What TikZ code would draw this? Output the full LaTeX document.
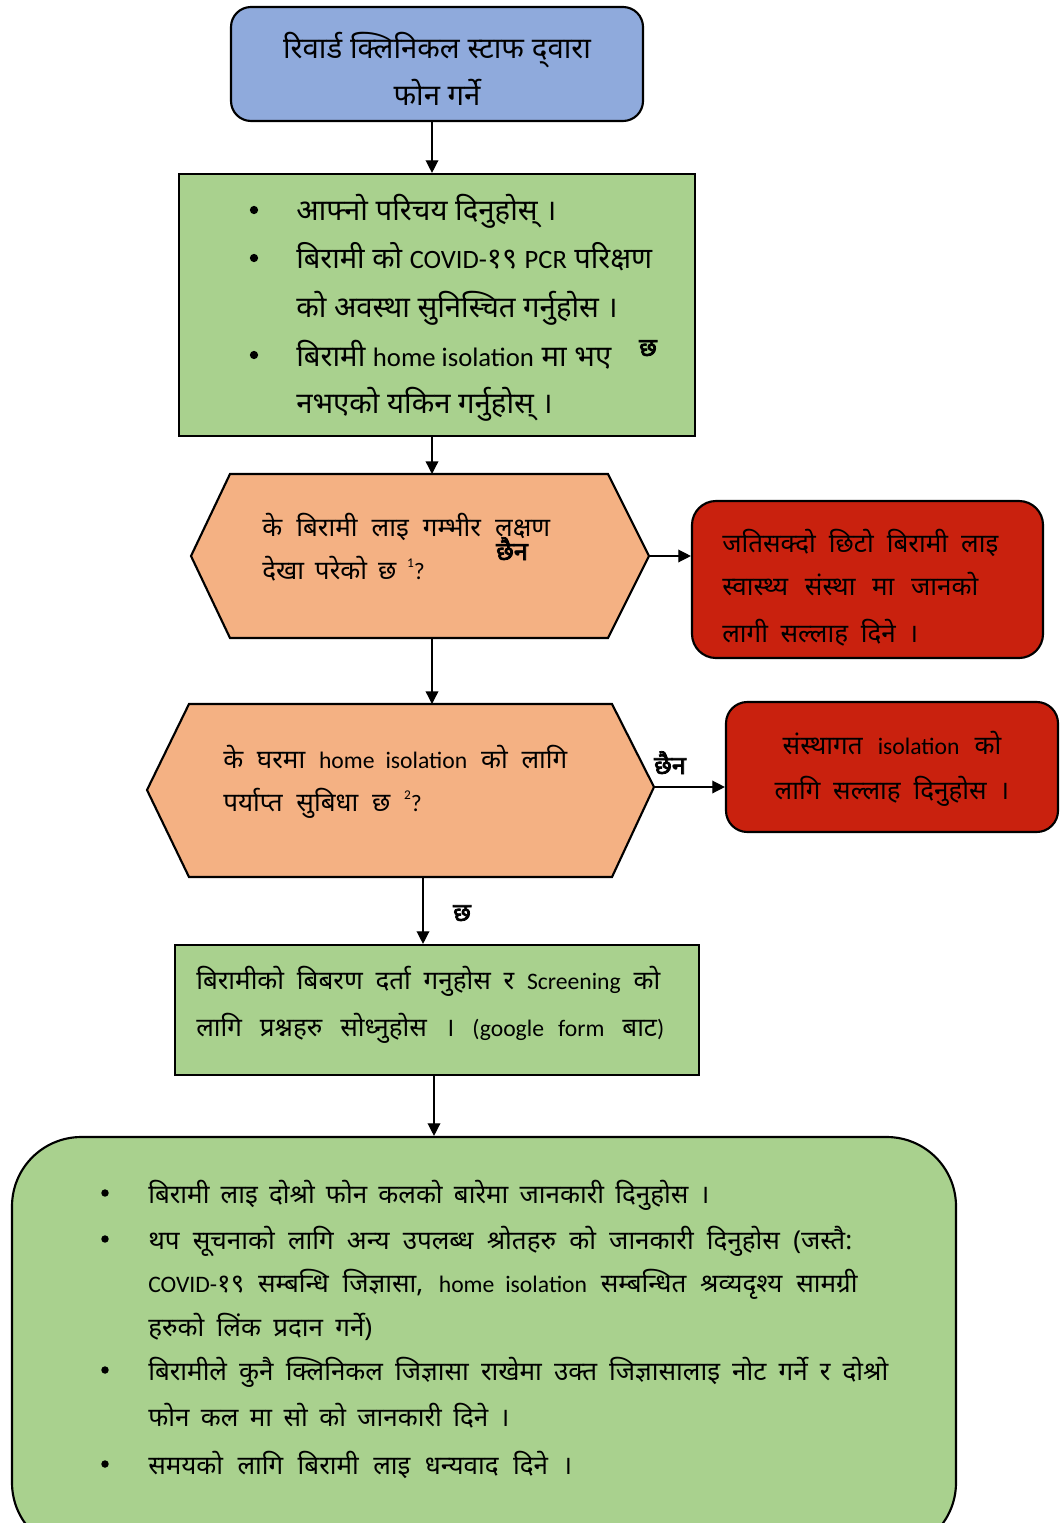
\documentclass[tikz,border=0pt]{standalone}
\usepackage{graphicx}
\usepackage{fontspec}
\setmainfont[Script=Devanagari]{Noto Sans}
\newfontfamily\lat[Scale=0.91]{Carlito}
\newfontfamily\devb[Script=Devanagari,FakeBold=3]{Noto Sans}
\usetikzlibrary{arrows.meta,fit}
\definecolor{cblue}{RGB}{143,170,220}
\definecolor{cgreen}{RGB}{169,209,142}
\definecolor{corange}{RGB}{244,177,131}
\definecolor{cred}{RGB}{201,33,14}
\newsavebox\fbx
\newcommand\fitw[2]{\sbox\fbx{#2}\ifdim\wd\fbx>#1\relax\resizebox{#1}{!}{\usebox\fbx}\else\makebox[#1][s]{#2}\fi}
\newcommand\mysup[1]{\raisebox{0.45em}{\fontsize{11pt}{11pt}\selectfont\lat #1}}
\tikzset{
  box/.style={draw=black, line width=1.6pt, inner sep=0pt},
  arr/.style={line width=1pt, -{Triangle[length=9.5pt,width=9.5pt]}},
  txt/.style={anchor=base west, inner sep=0pt},
  ctxt/.style={anchor=base, inner sep=0pt},
  lbl/.style={anchor=base, inner sep=0pt, font=\devb\fontsize{19pt}{19pt}\selectfont},
  bul/.style={circle, fill=black, inner sep=0pt, minimum size=6.2pt},
  sbul/.style={circle, fill=black, inner sep=0pt, minimum size=5.6pt},
}
\begin{document}
\begin{tikzpicture}[x=0.75pt, y=-0.75pt]
\clip (0,0) rectangle (1060,1523);
\fill[white] (0,0) rectangle (1060,1523);

% ---------- boxes ----------
\node[box, fit={(231,7) (643,121)}, fill=cblue, rounded corners=15pt] (top) {};
\node[box, fit={(179,174) (695,436)}, fill=cgreen] (g1) {};
\node[box, fit={(692,501) (1043,658)}, fill=cred, rounded corners=18pt] (r1) {};
\node[box, fit={(726,702) (1058,832)}, fill=cred, rounded corners=16pt] (r2) {};
\node[box, fit={(175,945) (699,1075)}, fill=cgreen] (g2) {};
\node[box, fit={(12,1137) (956,1552)}, fill=cgreen, rounded corners=52pt] (bot) {};

% hexagons
\coordinate (h1w) at (191,556);
\coordinate (h1t) at (432,474);
\coordinate (h1e) at (649,556);
\coordinate (h1b) at (432,638);
\draw[fill=corange, line width=1.6pt] (h1w) -- (230,474) -- (608,474) -- (h1e) -- (608,638) -- (230,638) -- cycle;
\coordinate (h2w) at (147,790);
\coordinate (h2t) at (432,704);
\coordinate (h2e) at (654,787);
\coordinate (h2b) at (423,877);
\draw[fill=corange, line width=1.6pt] (h2w) -- (189,704) -- (612,704) -- (h2e) -- (612,877) -- (189,877) -- cycle;
\coordinate (ax) at (434,1100);

% ---------- connectors ----------
\draw[arr] (h1t |- top.south) -- (h1t |- g1.north);
\draw[arr] (h1t |- g1.south) -- (h1t);
\draw[arr] (h1e) -- (h1e -| r1.west);
\draw[arr] (h1b) -- (h2t);
\draw[arr] (h2e) -- (h2e -| r2.west);
\draw[arr] (h2b) -- (h2b |- g2.north);
\draw[arr] (ax |- g2.south) -- (ax |- bot.north);

% ---------- texts ----------
\begin{scope}[every node/.append style={font=\fontsize{22pt}{26pt}\selectfont}]
\node[ctxt] (ta) at (437,59) {\fitw{231pt}{रिवार्ड क्लिनिकल स्टाफ द्^^^^200cवारा}};
\node[ctxt] (tb) at (437,106) {फोन गर्ने};
\end{scope}

\begin{scope}[every node/.append style={font=\fontsize{22pt}{26pt}\selectfont}]
\node[bul] (b1) at (254,210) {};
\node[bul] (b2) at (254,258) {};
\node[bul] (b3) at (254,355) {};
\node[txt] (ga) at (296,221) {आफ्नो परिचय दिनुहोस् ।};
\node[txt] (gb) at (296,269) {\fitw{267pt}{बिरामी को {\lat COVID-}१९ {\lat PCR} परिक्षण}};
\node[txt] (gc) at (296,317) {को अवस्था सुनिस्चित गर्नुहोस ।};
\node[txt] (gd) at (296,366) {बिरामी {\lat home isolation} मा भए};
\node[txt] (ge) at (296,413) {नभएको यकिन गर्नुहोस् ।};
\end{scope}
\node[lbl] (l1) at (648,356) {छ};

\begin{scope}[every node/.append style={font=\fontsize{19.5pt}{23pt}\selectfont}]
\node[txt] (ha) at (262,536) {\fitw{216pt}{के बिरामी लाइ गम्भीर लक्षण}};
\node[txt] (hb) at (262,579) {\fitw{122pt}{देखा परेको छ \mysup{1}{\lat ?}}};
\node[txt] (ra) at (722,552) {\fitw{207pt}{जतिसक्दो छिटो बिरामी लाइ}};
\node[txt] (rb) at (722,595) {\fitw{192pt}{स्वास्थ्य संस्था मा जानको}};
\node[txt] (rc) at (722,642) {\fitw{147pt}{लागी सल्लाह दिने ।}};
\node[txt] (hc) at (223,768) {\fitw{258pt}{के घरमा {\lat home isolation} को लागि}};
\node[txt] (hd) at (223,811) {\fitw{149pt}{पर्याप्त सुबिधा छ \mysup{2}{\lat ?}}};
\node[ctxt] (rd) at (892,754) {\fitw{164pt}{संस्थागत {\lat isolation} को}};
\node[ctxt] (re) at (892,799) {\fitw{176pt}{लागि सल्लाह दिनुहोस ।}};
\node[txt] (ka) at (196,989) {\fitw{348pt}{बिरामीको बिबरण दर्ता गनुहोस र {\lat Screening} को}};
\node[txt] (kb) at (196,1036) {\fitw{351pt}{लागि प्रश्नहरु सोध्नुहोस । {\lat (google form} बाट{\lat )}}};
\end{scope}
\node[lbl] (l2) at (512,560) {छैन};
\node[lbl] (l3) at (670,774) {छैन};
\node[lbl] (l4) at (462,921) {छ};

\begin{scope}[every node/.append style={font=\fontsize{19.5pt}{23pt}\selectfont}]
\node[sbul] (c1) at (105,1193) {};
\node[sbul] (c2) at (105,1239) {};
\node[sbul] (c3) at (105,1370) {};
\node[sbul] (c4) at (105,1464) {};
\node[txt] (ba) at (148,1203) {\fitw{421pt}{बिरामी लाइ दोश्रो फोन कलको बारेमा जानकारी दिनुहोस ।}};
\node[txt] (bb) at (148,1249) {\fitw{528pt}{थप सूचनाको लागि अन्य उपलब्ध श्रोतहरु को जानकारी दिनुहोस (जस्तै:}};
\node[txt] (bc) at (148,1292) {\fitw{532pt}{{\lat COVID-}१९ सम्बन्धि जिज्ञासा, {\lat home isolation} सम्बन्धित श्रव्यदृश्य सामग्री}};
\node[txt] (bd) at (148,1336) {\fitw{168pt}{हरुको लिंक प्रदान गर्ने)}};
\node[txt] (be) at (148,1380) {\fitw{555pt}{बिरामीले कुनै क्लिनिकल जिज्ञासा राखेमा उक्त जिज्ञासालाइ नोट गर्ने र दोश्रो}};
\node[txt] (bf) at (148,1426) {\fitw{271pt}{फोन कल मा सो को जानकारी दिने ।}};
\node[txt] (bg) at (148,1474) {\fitw{318pt}{समयको लागि बिरामी लाइ धन्यवाद दिने ।}};
\end{scope}
\end{tikzpicture}
\end{document}
